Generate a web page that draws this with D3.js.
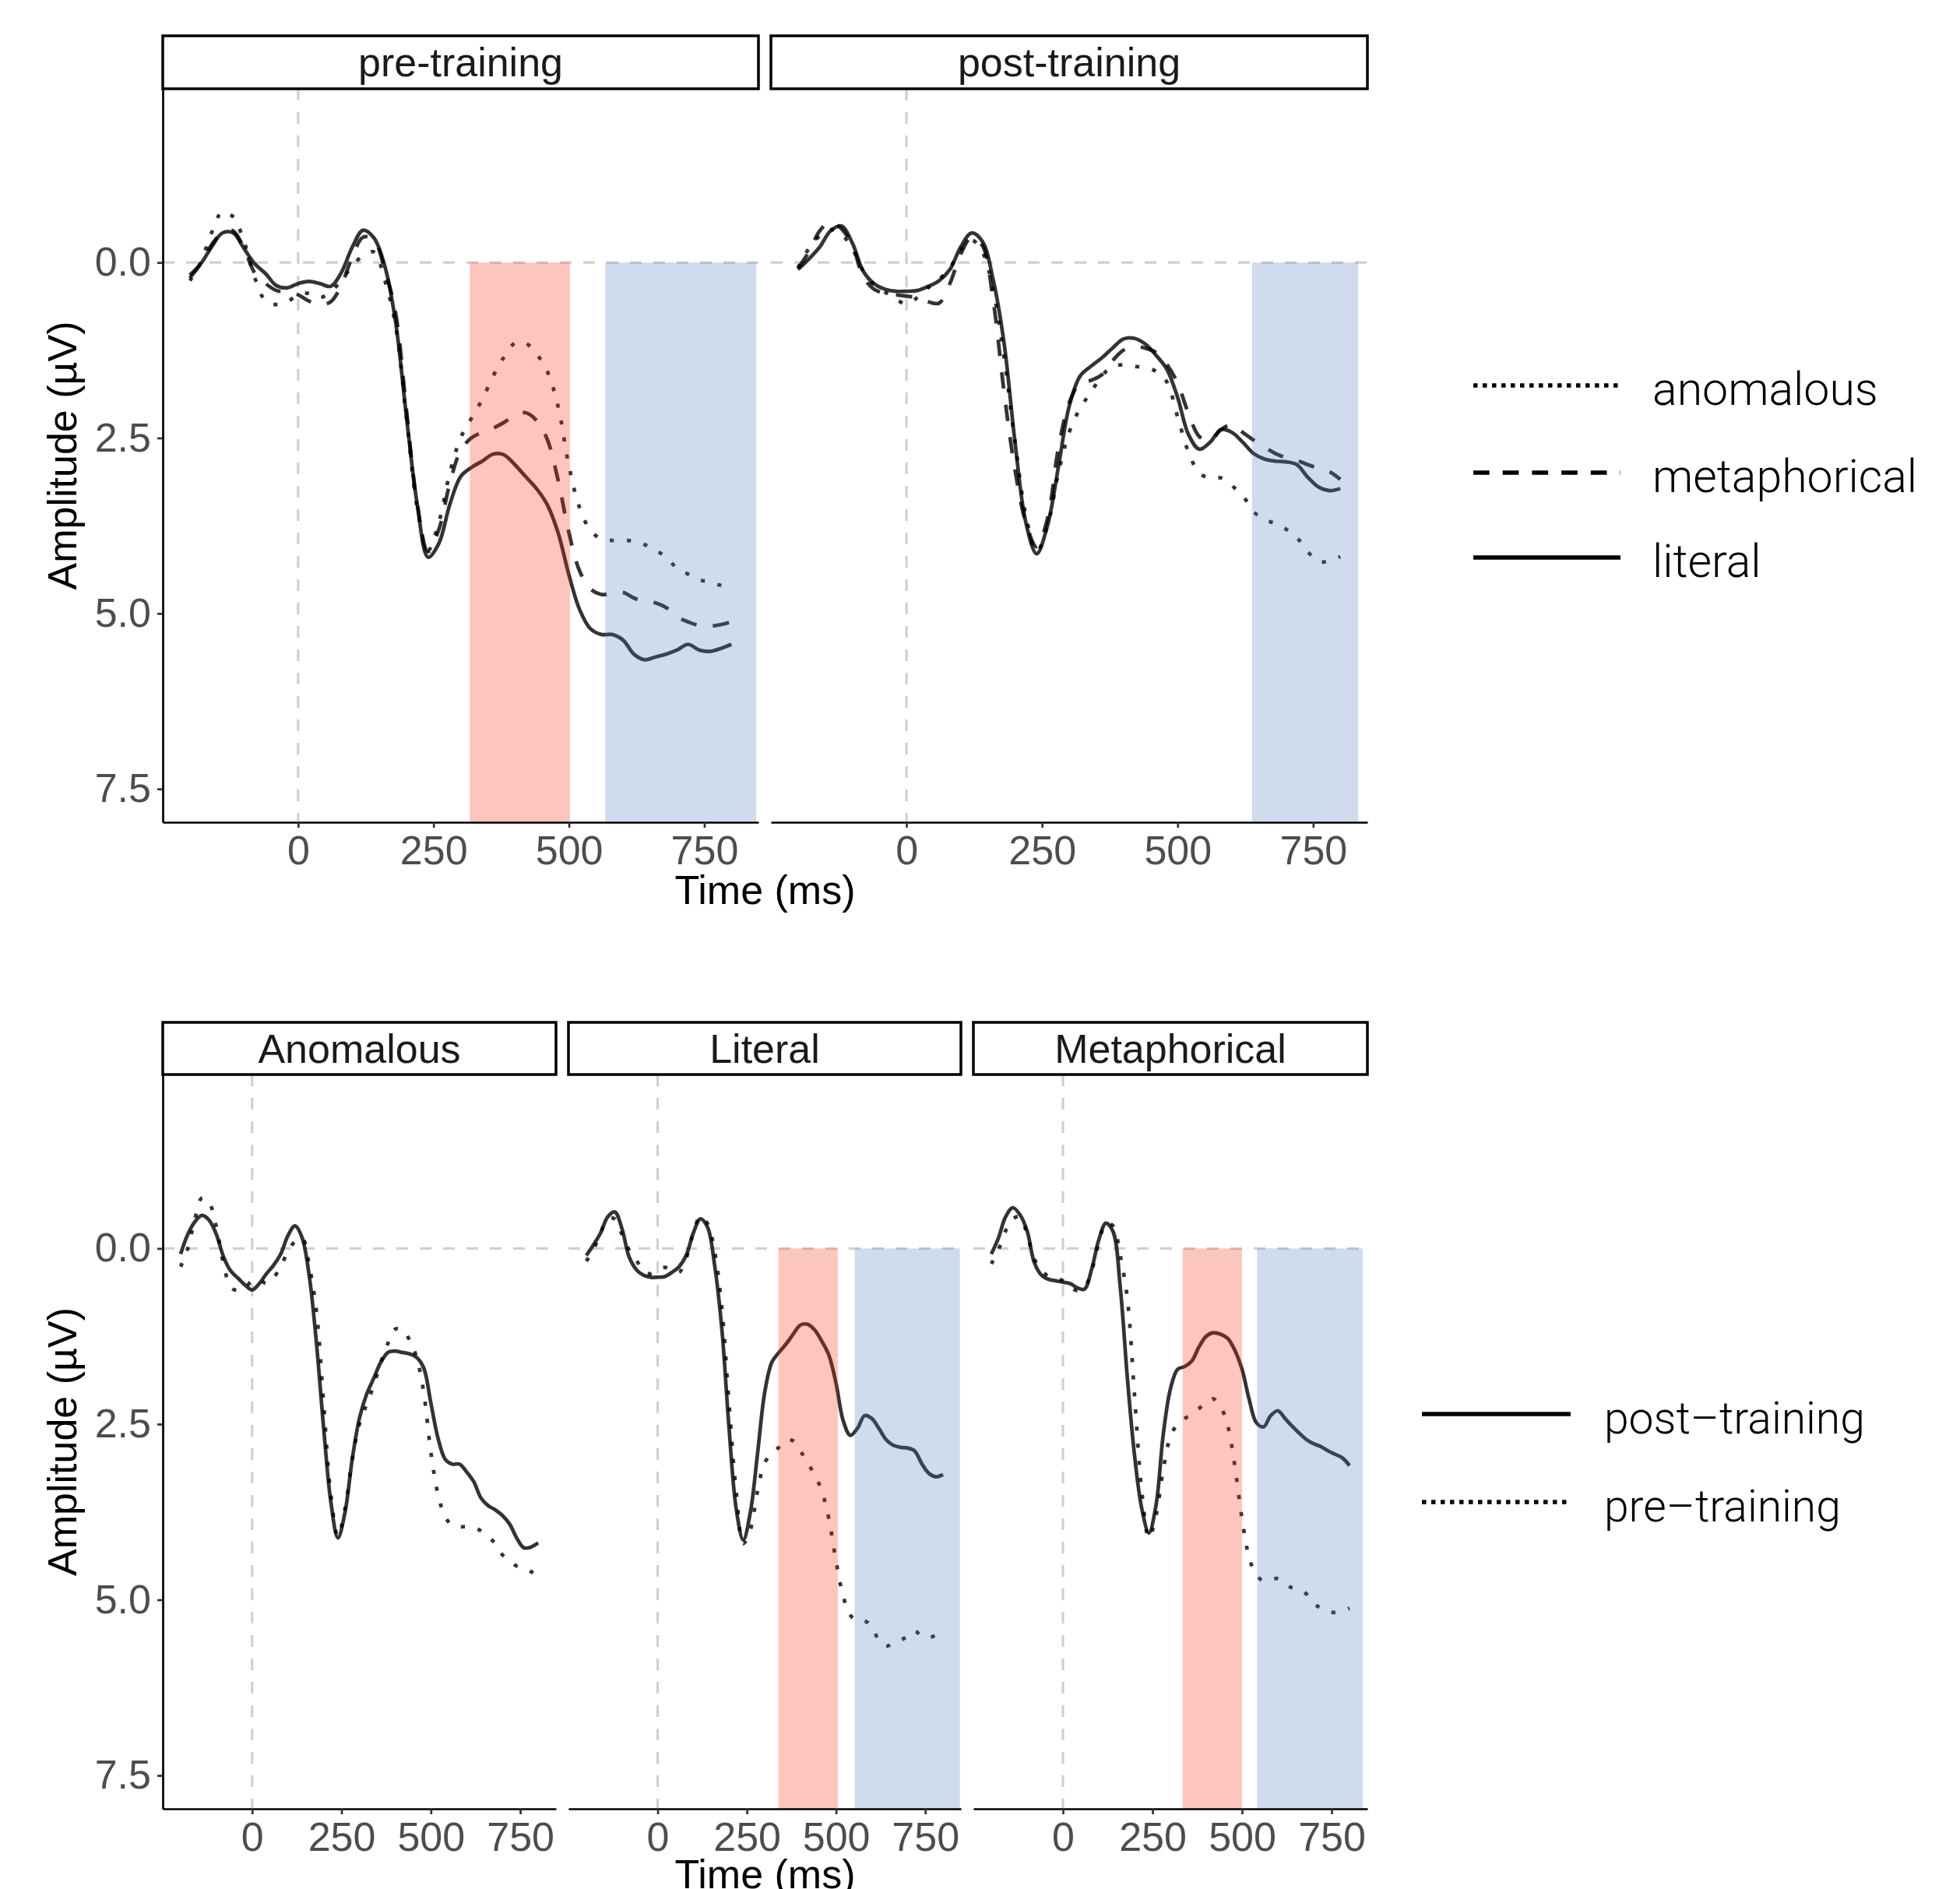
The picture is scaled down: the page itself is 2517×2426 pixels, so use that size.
<!DOCTYPE html>
<html>
  <head>
    <meta charset="utf-8">
    <title>ERP amplitude</title>
  </head>
  <style>
    body{
      margin: 0;
      background: #fff;
    }
    svg{
      display: block;
      font-family: "Liberation Sans", Helvetica, Arial, sans-serif;
    }
    .axis text{
      fill: #4d4d4d;
      font-size: 52px;
      font-family: "Liberation Sans", Helvetica, Arial, sans-serif;
    }
    .axis .domain{
      stroke: #000;
      stroke-width: 2.7;
    }
    .axis .tick line{
      stroke: #333;
      stroke-width: 2.7;
    }
    .legend text{
      font-family: Roboto, "Liberation Sans", sans-serif;
      font-weight: 300;
      fill: #000;
    }
  </style>
  <script src="https://d3js.org/d3.v7.min.js"></script>
  <body>
    <script>
    // time points (ms)
    var times = [-200, -180, -160, -140, -120, -100, -80, -60, -40, -20,
                 0, 20, 40, 60, 80, 100, 120, 140, 160, 180,
                 200, 220, 240, 260, 280, 300, 320, 340, 360, 380,
                 400, 420, 440, 460, 480, 500, 520, 540, 560, 580,
                 600, 620, 640, 660, 680, 700, 720, 740, 760, 780, 800]

    // amplitudes (µV)
    var preAnomalous = [0.26, 0.00, -0.42, -0.72, -0.65, -0.30, 0.22, 0.55, 0.60, 0.56,
                        0.46, 0.44, 0.50, 0.42, 0.25, 0.05, -0.10, -0.15, 0.25, 0.90,
                        2.20, 3.50, 4.10, 3.70, 3.00, 2.50, 2.22, 1.95, 1.62, 1.35,
                        1.15, 1.15, 1.30, 1.55, 2.05, 2.90, 3.50, 3.82, 3.94, 3.96,
                        3.96, 3.97, 4.02, 4.10, 4.20, 4.36, 4.44, 4.52, 4.55, 4.60, 4.65]
    var preMetaphorical = [0.22, 0.02, -0.25, -0.42, -0.45, -0.20, 0.15, 0.30, 0.40, 0.42,
                           0.46, 0.55, 0.60, 0.56, 0.32, -0.08, -0.36, -0.32, 0.10, 0.72,
                           2.10, 3.45, 4.12, 3.80, 3.15, 2.68, 2.50, 2.42, 2.36, 2.28,
                           2.18, 2.14, 2.25, 2.52, 3.10, 3.85, 4.40, 4.65, 4.73, 4.71,
                           4.70, 4.78, 4.83, 4.85, 4.92, 5.05, 5.12, 5.17, 5.18, 5.16, 5.12]
    var preLiteral = [0.18, 0.02, -0.22, -0.42, -0.42, -0.20, 0.02, 0.16, 0.33, 0.36,
                      0.30, 0.27, 0.30, 0.34, 0.14, -0.22, -0.46, -0.35, 0.05, 0.85,
                      2.20, 3.45, 4.20, 4.00, 3.45, 3.05, 2.92, 2.83, 2.73, 2.74,
                      2.88, 3.05, 3.22, 3.45, 3.85, 4.45, 4.95, 5.22, 5.30, 5.30,
                      5.38, 5.58, 5.66, 5.62, 5.58, 5.52, 5.44, 5.52, 5.54, 5.50, 5.44]
    var postAnomalous = [0.08, -0.20, -0.38, -0.47, -0.40, -0.20, 0.12, 0.32, 0.42, 0.52,
                         0.59, 0.50, 0.36, 0.24, 0.08, -0.18, -0.32, -0.15, 0.40, 1.35,
                         2.55, 3.60, 4.12, 3.75, 3.00, 2.42, 2.08, 1.85, 1.62, 1.48,
                         1.46, 1.48, 1.50, 1.55, 1.70, 2.20, 2.70, 3.00, 3.07, 3.07,
                         3.18, 3.32, 3.55, 3.66, 3.72, 3.80, 3.92, 4.12, 4.26, 4.25, 4.19]
    var postMetaphorical = [0.08, -0.15, -0.45, -0.58, -0.48, -0.25, 0.20, 0.38, 0.44, 0.46,
                            0.48, 0.50, 0.56, 0.58, 0.30, -0.12, -0.36, -0.24, 0.55, 1.85,
                            2.95, 3.70, 4.05, 3.65, 2.65, 2.00, 1.72, 1.68, 1.60, 1.40,
                            1.25, 1.20, 1.22, 1.28, 1.45, 1.72, 2.15, 2.48, 2.54, 2.38,
                            2.31, 2.42, 2.53, 2.63, 2.72, 2.78, 2.82, 2.88, 2.93, 2.98, 3.09]
    var postLiteral = [0.10, -0.05, -0.22, -0.45, -0.52, -0.28, 0.12, 0.30, 0.38, 0.41,
                       0.41, 0.40, 0.34, 0.26, 0.10, -0.22, -0.42, -0.30, 0.25, 1.15,
                       2.55, 3.70, 4.15, 3.75, 2.92, 2.05, 1.62, 1.48, 1.36, 1.22,
                       1.09, 1.08, 1.16, 1.32, 1.52, 1.92, 2.45, 2.66, 2.56, 2.38,
                       2.42, 2.56, 2.72, 2.80, 2.83, 2.84, 2.88, 3.06, 3.20, 3.25, 3.22]

    // shaded time windows (ms)
    var windowsPre = [[317, 502, "early"], [567, 846, "late"]]
    var windowsPost = [[637, 833, "late"]]
    var windowsAnomalous = []
    var windowsLiteral = [[338, 505, "early"], [552, 847, "late"]]
    var windowsMetaphorical = [[334, 500, "early"], [542, 837, "late"]]

    var xTicks = [0, 250, 500, 750]
    var yTicks = [0, 2.5, 5, 7.5]
    var xLimits = [-250, 850]
    var yLimits = [-2.475, 7.975]

    var conditionLabels = ["anomalous", "metaphorical", "literal"]
    var sessionLabels = ["post\u2013training", "pre\u2013training"]

    var dash = { solid: null, dashed: "21,21", dotted: "5.3,16.7" }
    var keyDash = { solid: null, dashed: "20.7,17", dotted: "5.5,6.5" }
    var shade = {
      early: { fill: "rgb(244,45,20)", opacity: 0.27 },
      late:  { fill: "rgb(74,117,189)", opacity: 0.26 }
    }

    var W = 2517, H = 2426
    var svg = d3.select("body")
                .append("svg")
                .attr("width", W)
                .attr("height", H)

    var topRow = { strip: 46, top: 114, bottom: 1056 }
    var bottomRow = { strip: 1313, top: 1380, bottom: 2323 }

    function drawPanel(row, left, right, title, lines, windows, showY) {
      var x = d3.scaleLinear().domain(xLimits).range([left, right])
      var y = d3.scaleLinear().domain(yLimits).range([row.top, row.bottom])
      var g = svg.append("g")

      // dashed reference lines
      g.append("line")
       .attr("x1", left).attr("x2", right)
       .attr("y1", y(0)).attr("y2", y(0))
       .attr("stroke", "#d0d0d0").attr("stroke-width", 3.2)
       .attr("stroke-dasharray", "15,15")
      g.append("line")
       .attr("x1", x(0)).attr("x2", x(0))
       .attr("y1", row.top).attr("y2", row.bottom)
       .attr("stroke", "#d0d0d0").attr("stroke-width", 3.2)
       .attr("stroke-dasharray", "15,15")

      // waveforms
      var line = d3.line()
                   .x(function(d, i){ return x(times[i]) })
                   .y(function(d){ return y(d) })
                   .curve(d3.curveCatmullRom.alpha(0.5))
      lines.forEach(function(l){
        g.append("path")
         .datum(l.values)
         .attr("d", line)
         .attr("fill", "none")
         .attr("stroke", "#000")
         .attr("stroke-opacity", 0.8)
         .attr("stroke-width", 4.7)
         .attr("stroke-linejoin", "round")
         .attr("stroke-dasharray", dash[l.type])
      })

      // shaded windows sit over the lines
      g.selectAll("rect.win")
       .data(windows)
       .enter()
       .append("rect")
       .attr("class", "win")
       .attr("x", function(d){ return x(d[0]) })
       .attr("width", function(d){ return x(d[1]) - x(d[0]) })
       .attr("y", y(0))
       .attr("height", row.bottom - y(0))
       .attr("fill", function(d){ return shade[d[2]].fill })
       .attr("fill-opacity", function(d){ return shade[d[2]].opacity })

      // axes
      g.append("g")
       .attr("class", "axis")
       .attr("transform", "translate(0," + row.bottom + ")")
       .call(d3.axisBottom(x).tickValues(xTicks).tickSize(7).tickPadding(10).tickSizeOuter(0))
      if (showY) {
        g.append("g")
         .attr("class", "axis")
         .attr("transform", "translate(" + left + ",0)")
         .call(d3.axisLeft(y).tickValues(yTicks).tickFormat(d3.format(".1f"))
                 .tickSize(7).tickPadding(8).tickSizeOuter(0))
      }

      // facet strip
      g.append("rect")
       .attr("x", left).attr("y", row.strip)
       .attr("width", right - left).attr("height", row.top - row.strip)
       .attr("fill", "#fff").attr("stroke", "#000").attr("stroke-width", 3.5)
      g.append("text")
       .attr("x", (left + right) / 2)
       .attr("y", (row.strip + row.top) / 2 + 18)
       .attr("text-anchor", "middle")
       .attr("font-size", "52px")
       .attr("fill", "#1a1a1a")
       .text(title)
    }

    //上排：按训练阶段分面
    drawPanel(topRow, 209, 974, "pre-training", [
      { values: preAnomalous, type: "dotted" },
      { values: preMetaphorical, type: "dashed" },
      { values: preLiteral, type: "solid" }
    ], windowsPre, true)
    drawPanel(topRow, 990, 1756, "post-training", [
      { values: postAnomalous, type: "dotted" },
      { values: postMetaphorical, type: "dashed" },
      { values: postLiteral, type: "solid" }
    ], windowsPost, false)

    //下排：按条件分面
    drawPanel(bottomRow, 209, 714, "Anomalous", [
      { values: preAnomalous, type: "dotted" },
      { values: postAnomalous, type: "solid" }
    ], windowsAnomalous, true)
    drawPanel(bottomRow, 730, 1234, "Literal", [
      { values: preLiteral, type: "dotted" },
      { values: postLiteral, type: "solid" }
    ], windowsLiteral, false)
    drawPanel(bottomRow, 1250, 1756, "Metaphorical", [
      { values: preMetaphorical, type: "dotted" },
      { values: postMetaphorical, type: "solid" }
    ], windowsMetaphorical, false)

    // axis titles
    function axisTitles(row, timeBaseline) {
      svg.append("text")
         .attr("x", 982.5).attr("y", timeBaseline)
         .attr("text-anchor", "middle")
         .attr("font-size", "52px")
         .text("Time (ms)")
      svg.append("text")
         .attr("transform", "translate(98," + (row.top + row.bottom) / 2 + ") rotate(-90)")
         .attr("text-anchor", "middle")
         .attr("font-size", "52px")
         .text("Amplitude (\u00b5V)")
    }
    axisTitles(topRow, 1161)
    axisTitles(bottomRow, 2425)

    // legends
    function legend(labels, types, x0, x1, tx, ys, size) {
      var lg = svg.append("g").attr("class", "legend")
      labels.forEach(function(lab, i){
        lg.append("line")
          .attr("x1", x0).attr("x2", x1)
          .attr("y1", ys[i]).attr("y2", ys[i])
          .attr("stroke", "#000").attr("stroke-width", 5.7)
          .attr("stroke-dasharray", keyDash[types[i]])
        lg.append("text")
          .attr("x", tx).attr("y", ys[i] + 25)
          .attr("font-size", size + "px")
          .text(lab)
      })
    }
    legend(conditionLabels, ["dotted", "dashed", "solid"], 1892, 2081, 2122, [495, 607, 716], 59)
    legend(sessionLabels, ["solid", "dotted"], 1826, 2017, 2060, [1816, 1929], 57)
    </script>
  </body>
</html>
